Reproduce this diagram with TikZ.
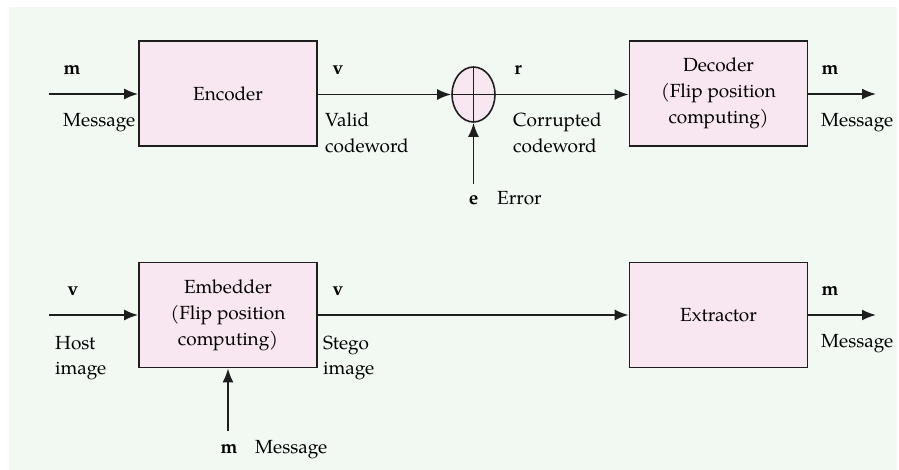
\documentclass[tikz,border=0pt]{standalone}
\usepackage{fontspec}
\setmainfont{TeX Gyre Pagella}
\usetikzlibrary{arrows.meta,shapes.geometric}
\definecolor{panel}{HTML}{F2F8F2}
\definecolor{boxfill}{HTML}{F8E6F0}
\definecolor{ink}{HTML}{1E1E1E}
\tikzset{
  block/.style={draw=ink, line width=1.8pt, fill=boxfill, minimum width=178pt,
    minimum height=105pt, align=center, font=\fontsize{19}{26}\selectfont, inner sep=0pt},
  adder/.style={ellipse, draw=ink, line width=1.6pt, fill=boxfill, minimum width=43pt,
    minimum height=55pt, inner sep=0pt},
  arr/.style={draw=ink, line width=1.8pt, -{Latex[length=14pt,width=11pt]}},
  wire/.style={draw=ink, line width=1.8pt},
  sym/.style={font=\fontsize{19}{26}\selectfont\bfseries, anchor=base, inner sep=0pt},
  lbl/.style={font=\fontsize{19}{26}\selectfont, anchor=base west, inner sep=0pt},
}
\begin{document}
\begin{tikzpicture}[x=1pt, y=-1pt]
  % canvas
  \useasboundingbox (0,0) rectangle (899,470);
  \fill[white] (0,0) rectangle (899,470);
  \fill[panel] (9,7) rectangle (897,470);

  % ---------- channel coding chain ----------
  \node[block] (enc) at (228,93.5) {Encoder};
  \node[block] (dec) at (718.5,93.5) {Decoder\\(Flip position\\computing)};
  \node[adder] (add) at (473.5,94.5) {};
  \draw[wire] (add.west) -- (add.east);
  \draw[wire] (add.north) -- (add.south);

  \coordinate (msgin) at (49,94);
  \coordinate (errin) at (473.5,184);
  \coordinate (msgout) at (876,94);

  \draw[arr] (msgin) -- (enc.west |- msgin);
  \draw[arr] (enc.east |- add.west) -- (add.west);
  \draw[arr] (add.east) -- (dec.west |- add.east);
  \draw[arr] (errin) -- (add.south);
  \draw[arr] (dec.east |- msgout) -- (msgout);

  \node[sym] (m1) at (72,75) {m};
  \node[lbl] (msg1) at (63,127) {Message};
  \node[sym] (v1) at (338,75) {v};
  \node[lbl] (valid) at (325,127) {Valid};
  \node[lbl] (validcw) at (325,153) {codeword};
  \node[sym] (r1) at (518,75) {r};
  \node[lbl] (corr) at (513,127) {Corrupted};
  \node[lbl] (corrcw) at (513,153) {codeword};
  \node[sym] (e1) at (473.5,205) {e};
  \node[lbl] (err) at (497,205) {Error};
  \node[sym] (m2) at (830,75) {m};
  \node[lbl] (msg2) at (821,127) {Message};

  % ---------- steganography chain ----------
  \node[block] (emb) at (228,315) {Embedder\\(Flip position\\computing)};
  \node[block] (ext) at (718.5,315) {Extractor};

  \coordinate (hostin) at (49,315);
  \coordinate (msgin2) at (228,431);
  \coordinate (msgout2) at (876,315);

  \draw[arr] (hostin) -- (emb.west |- hostin);
  \draw[arr] (emb.east) -- (ext.west);
  \draw[arr] (msgin2) -- (emb.south);
  \draw[arr] (ext.east |- msgout2) -- (msgout2);

  \node[sym] (v2) at (73,295) {v};
  \node[lbl] (host) at (55,349) {Host};
  \node[lbl] (hostimg) at (55,374) {image};
  \node[sym] (v3) at (338,295) {v};
  \node[lbl] (stego) at (323,349) {Stego};
  \node[lbl] (stegoimg) at (323,374) {image};
  \node[sym] (m3) at (229,453) {m};
  \node[lbl] (msg3) at (255,453) {Message};
  \node[sym] (m4) at (830,295) {m};
  \node[lbl] (msg4) at (821,347) {Message};
\end{tikzpicture}
\end{document}
